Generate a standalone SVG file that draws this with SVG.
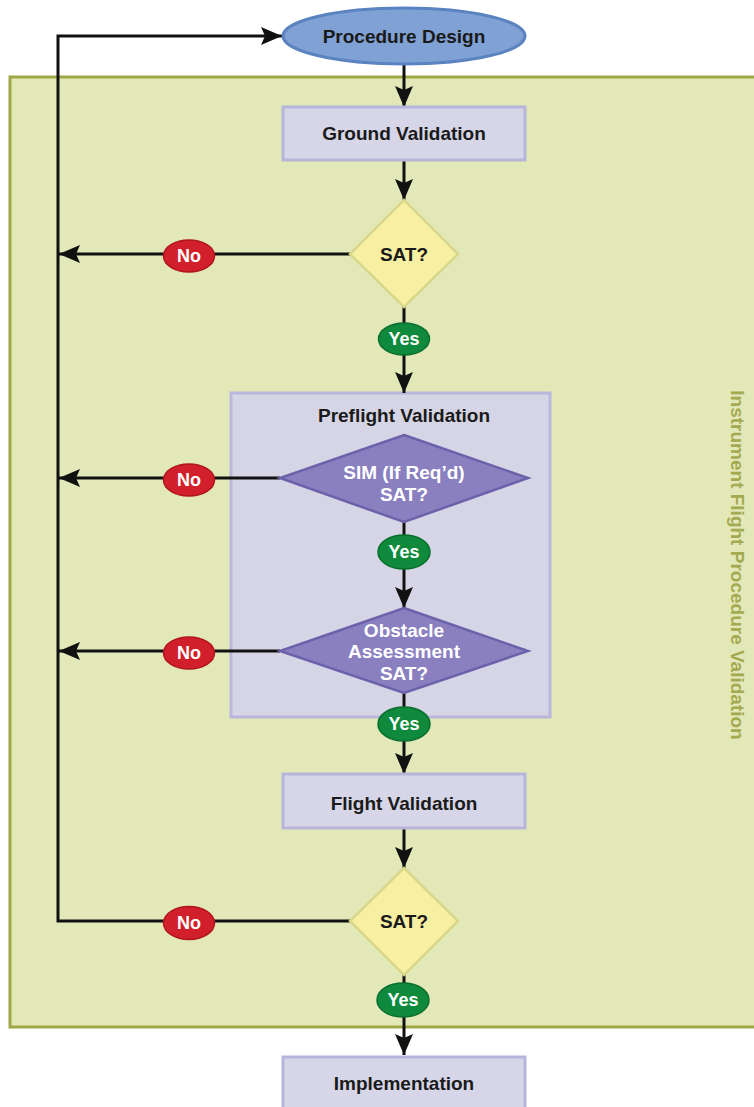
<svg xmlns="http://www.w3.org/2000/svg" width="754" height="1107" viewBox="0 0 754 1107">
<defs>
<style>
.t{font-family:"Liberation Sans",Arial,sans-serif;font-weight:bold;font-size:19px;text-anchor:middle;fill:#1a1a1a}
.w{fill:#ffffff}
.s{font-size:18px}
.box{fill:#d6d6e8;stroke:#b8b5da;stroke-width:3}
.sat{fill:#f7f0a2;stroke:#d8d78a;stroke-width:2.5}
.pd{fill:#8a80c0;stroke:#6c61ab;stroke-width:2.5}
.no{fill:#d11f2b;stroke:#b01520;stroke-width:1.5}
.yes{fill:#0f8a3c;stroke:#0a6e2e;stroke-width:1.5}
.ln{stroke:#111;stroke-width:3;fill:none}
.ar{stroke:#111;stroke-width:3;fill:none;marker-end:url(#ah)}
</style>
<marker id="ah" markerUnits="userSpaceOnUse" markerWidth="22" markerHeight="18" refX="21" refY="9" orient="auto">
<path d="M0,0 L21,9 L0,18 L4,9 Z" fill="#111"/>
</marker>
</defs>
<rect x="0" y="0" width="754" height="1107" fill="#ffffff"/>
<g id="panel">
<rect x="10" y="77" width="760" height="950" fill="#e3e8b8" stroke="#9ea645" stroke-width="3"/>
<text class="t" transform="translate(738,565) rotate(90)" x="0" y="7" style="fill:#a3aa50;font-size:19px">Instrument Flight Procedure Validation</text>
</g>
<g id="preflight">
<rect x="231" y="393" width="319" height="324" fill="#d5d5e5" stroke="#bab6dc" stroke-width="3"/>
<text class="t" x="404" y="422">Preflight Validation</text>
</g>
<g id="connectors">
<line class="ar" x1="404" y1="64" x2="404" y2="107"/>
<line class="ar" x1="404" y1="160" x2="404" y2="200"/>
<line class="ln" x1="404" y1="307" x2="404" y2="323"/>
<line class="ar" x1="404" y1="355" x2="404" y2="393"/>
<line class="ln" x1="404" y1="522" x2="404" y2="535"/>
<line class="ar" x1="404" y1="569" x2="404" y2="608"/>
<line class="ln" x1="404" y1="693" x2="404" y2="708"/>
<line class="ar" x1="404" y1="741" x2="404" y2="774"/>
<line class="ar" x1="404" y1="828" x2="404" y2="868"/>
<line class="ln" x1="404" y1="975" x2="404" y2="983"/>
<line class="ar" x1="404" y1="1017" x2="404" y2="1055"/>
<line class="ar" x1="350" y1="254" x2="59" y2="254"/>
<line class="ar" x1="280" y1="478" x2="59" y2="478"/>
<line class="ar" x1="280" y1="651" x2="59" y2="651"/>
<polyline class="ar" points="350,921 58,921 58,36 282,36"/>
</g>
<g id="procedure-design">
<ellipse cx="404" cy="36" rx="121" ry="28" fill="#7fa1d3" stroke="#5b83c2" stroke-width="3"/>
<text class="t" x="404" y="43">Procedure Design</text>
</g>
<g id="ground-validation">
<rect class="box" x="283" y="107" width="242" height="53"/>
<text class="t" x="404" y="140">Ground Validation</text>
</g>
<g id="sat1">
<polygon class="sat" points="404,200 458,254 404,307 350,254"/>
<text class="t" x="404" y="261">SAT?</text>
</g>
<g id="no1"><ellipse class="no" cx="189" cy="256" rx="25.5" ry="16"/><text class="t w s" x="189" y="262">No</text></g>
<g id="yes1"><ellipse class="yes" cx="404" cy="339" rx="25.5" ry="16"/><text class="t w s" x="404" y="345">Yes</text></g>
<g id="sim">
<polygon class="pd" points="404,435 528,478 404,522 280,478"/>
<text class="t w" x="404" y="479">SIM (If Req’d)</text>
<text class="t w" x="404" y="501">SAT?</text>
</g>
<g id="no2"><ellipse class="no" cx="189" cy="480" rx="25.5" ry="16"/><text class="t w s" x="189" y="486">No</text></g>
<g id="yes2"><ellipse class="yes" cx="404" cy="552" rx="26" ry="17"/><text class="t w s" x="404" y="558">Yes</text></g>
<g id="obstacle">
<polygon class="pd" points="404,608 528,651 404,693 280,651"/>
<text class="t w" x="404" y="637">Obstacle</text>
<text class="t w" x="404" y="658">Assessment</text>
<text class="t w" x="404" y="680">SAT?</text>
</g>
<g id="no3"><ellipse class="no" cx="189" cy="653" rx="25.5" ry="16"/><text class="t w s" x="189" y="659">No</text></g>
<g id="yes3"><ellipse class="yes" cx="404" cy="724" rx="26" ry="17"/><text class="t w s" x="404" y="730">Yes</text></g>
<g id="flight-validation">
<rect class="box" x="283" y="774" width="242" height="54"/>
<text class="t" x="404" y="810">Flight Validation</text>
</g>
<g id="sat2">
<polygon class="sat" points="404,868 458,921 404,975 350,921"/>
<text class="t" x="404" y="928">SAT?</text>
</g>
<g id="no4"><ellipse class="no" cx="189" cy="923" rx="25.5" ry="16.5"/><text class="t w s" x="189" y="929">No</text></g>
<g id="yes4"><ellipse class="yes" cx="403" cy="1000" rx="26" ry="17"/><text class="t w s" x="403" y="1006">Yes</text></g>
<g id="implementation">
<rect class="box" x="283" y="1057" width="242" height="60"/>
<text class="t" x="404" y="1090">Implementation</text>
</g>
</svg>
